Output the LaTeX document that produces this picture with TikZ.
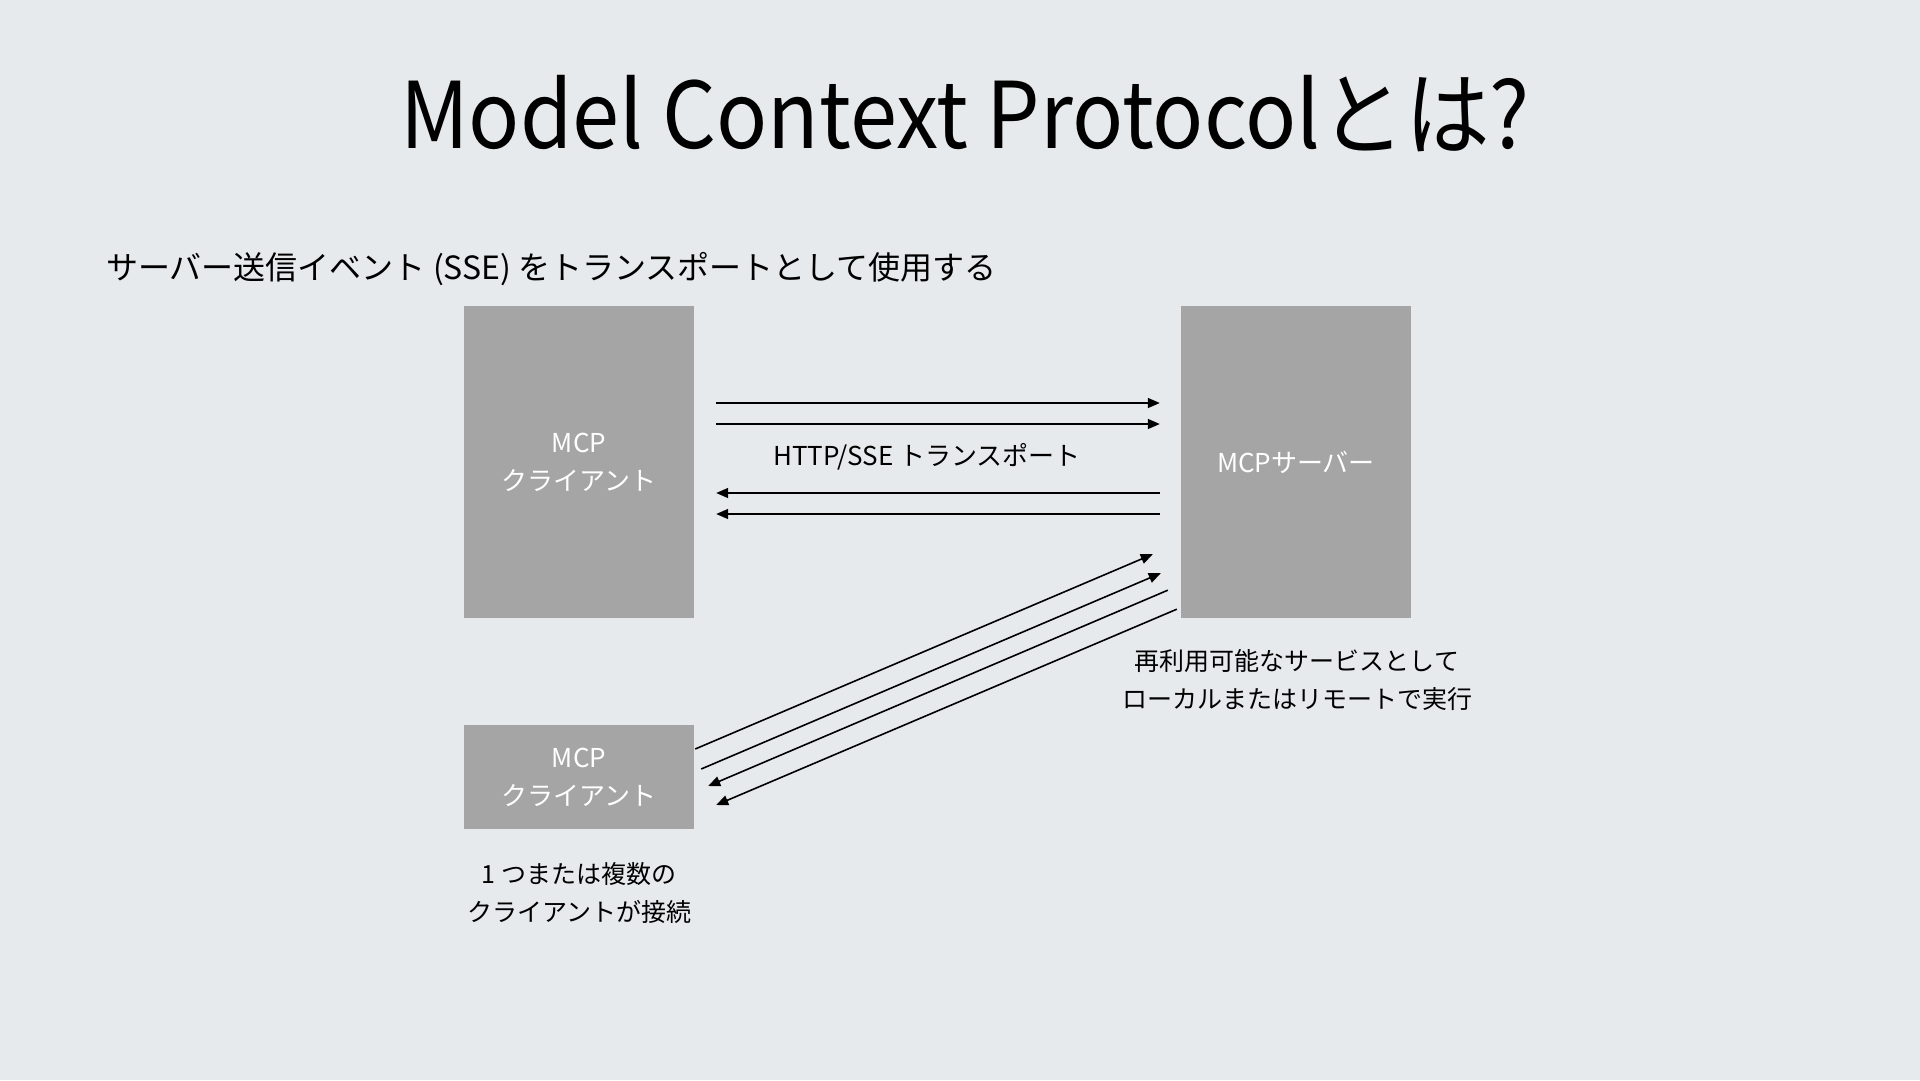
\documentclass[tikz,border=0pt]{standalone}
\usepackage{fontspec}
\setmainfont{Noto Sans CJK JP}
\usepackage{tikz}
\usetikzlibrary{arrows.meta,positioning}
\definecolor{slidebg}{HTML}{E7EAEC}
\definecolor{boxgray}{HTML}{A5A5A5}

\begin{document}
\begin{tikzpicture}[x=1pt,y=-1pt,every node/.style={inner sep=0pt},
  box/.style={fill=boxgray,text=white,align=center,minimum width=230pt,font=\fontsize{26}{38}\selectfont},
  note/.style={align=center,font=\fontsize{25}{38}\selectfont},
  link/.style={line width=1.6pt,-{Triangle[length=12pt,width=10pt]}}]
  \fill[slidebg] (0,0) rectangle (1920,1080);
  \useasboundingbox (0,0) rectangle (1920,1080);
  \node (title) at (965,114) {\fontsize{92}{100}\selectfont\scalebox{0.92}[1]{Model Context Protocolとは?}};
  \node[anchor=west] (sub) at (106,269) {\fontsize{32}{40}\selectfont サーバー送信イベント (SSE) をトランスポートとして使用する};
  \node[box,minimum height=312pt] (client1) at (579,462) {MCP\\クライアント};
  \node[box,minimum height=312pt] (server) at (1296,462) {MCPサーバー};
  \node[box,minimum height=104pt] (client2) at (579,777) {MCP\\クライアント};
  % HTTP/SSE between the big boxes
  \foreach \dy in {59,38}{
    \draw[link] ([xshift=22pt,yshift=\dy pt]client1.east) -- ([xshift=-21pt,yshift=\dy pt]server.west);}
  \foreach \dy in {-31,-52}{
    \draw[link] ([xshift=-21pt,yshift=\dy pt]server.west) -- ([xshift=22pt,yshift=\dy pt]client1.east);}
  \node (transport) at (927,457) {\fontsize{26}{30}\selectfont HTTP/SSE トランスポート};
  % second client
  \draw[link] ([xshift=1pt,yshift=28pt]client2.east) -- ([xshift=-28pt,yshift=64pt]server.south west);
  \draw[link] ([xshift=7pt,yshift=8pt]client2.east) -- ([xshift=-20pt,yshift=45pt]server.south west);
  \draw[link] ([xshift=-13pt,yshift=28pt]server.south west) -- ([xshift=14pt,yshift=-9pt]client2.east);
  \draw[link] ([xshift=-4pt,yshift=9pt]server.south west) -- ([xshift=22pt,yshift=-28pt]client2.east);
  \node[note] (servernote) at (1297,680) {再利用可能なサービスとして\\ローカルまたはリモートで実行};
  \node[note] (clientnote) at (579,893) {1 つまたは複数の\\クライアントが接続};
\end{tikzpicture}
\end{document}
